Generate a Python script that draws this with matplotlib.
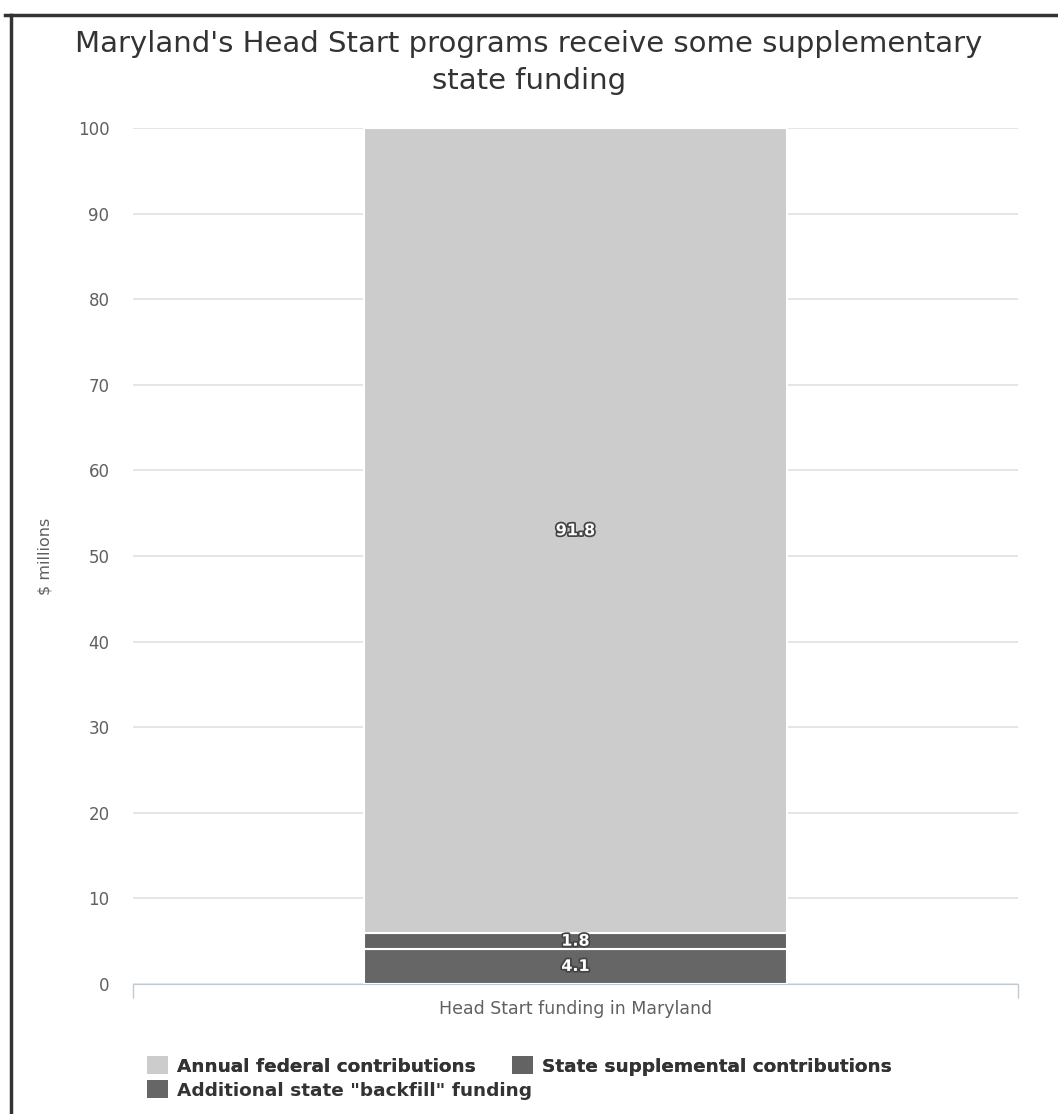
import matplotlib.pyplot as plt
import matplotlib.patheffects as pe
from matplotlib.lines import Line2D
from matplotlib.patches import Patch

plt.rcParams['font.family'] = ['DejaVu Sans']

# data
category = ["Head Start funding in Maryland"]
backfill = [4.1]        # Additional state "backfill" funding
supplemental = [1.8]    # State supplemental contributions
federal = [94.1]        # Annual federal contributions (bar drawn up to the axis top)
segment_labels = ["4.1", "1.8", "91.8"]
yticks = [0, 10, 20, 30, 40, 50, 60, 70, 80, 90, 100]

c_federal = "#cccccc"
c_supp = "#636363"
c_backfill = "#666666"

fig = plt.figure(figsize=(10.58, 11.14), dpi=100)
ax = fig.add_axes([133 / 1058, 130 / 1114, 885 / 1058, 856 / 1114])

x = [0]
w = 0.477
b1 = ax.bar(x, backfill, width=w, color=c_backfill, edgecolor="white", linewidth=1.5, zorder=3)
b2 = ax.bar(x, supplemental, width=w, bottom=backfill, color=c_supp, edgecolor="white", linewidth=1.5, zorder=3)
bottom3 = [a + b for a, b in zip(backfill, supplemental)]
b3 = ax.bar(x, federal, width=w, bottom=bottom3, color=c_federal, edgecolor="white", linewidth=1.5, zorder=3)

stroke = [pe.withStroke(linewidth=2.5, foreground="#444444")]
for bars, lab in zip([b1, b2, b3], segment_labels):
    r = bars[0]
    yc = r.get_y() + r.get_height() / 2
    if r.get_y() + r.get_height() > 100:
        yc = (r.get_y() + 100) / 2
    ax.text(r.get_x() + r.get_width() / 2, yc, lab, ha="center", va="center",
            color="white", fontsize=11.5, fontweight="bold", path_effects=stroke, zorder=5)

ax.set_xlim(-0.5, 0.5)
ax.set_ylim(0, 100)
ax.set_yticks(yticks)
ax.tick_params(axis="y", length=0, labelsize=12, labelcolor="#606060", pad=17)
ax.set_xticks([-0.5, 0.5])
ax.set_xticklabels(["", ""])
ax.tick_params(axis="x", length=10, color="#c0c8d0", width=1)
ax.text(0, -2.9, category[0], ha="center", va="center", fontsize=12.5, color="#606060")
ax.grid(axis="y", color="#e0e0e0", linewidth=1.2, zorder=0)
for s in ["top", "right", "left"]:
    ax.spines[s].set_visible(False)
ax.spines["bottom"].set_color("#c0c8d0")
ax.set_ylabel("$ millions", fontsize=11.5, color="#606060", labelpad=18)

fig.text(0.5, 1 - 44 / 1114, "Maryland's Head Start programs receive some supplementary",
         ha="center", va="center", fontsize=21, color="#333333")
fig.text(0.5, 1 - 81 / 1114, "state funding", ha="center", va="center", fontsize=21, color="#333333")

# outer frame (left and top only visible)
fig.add_artist(Line2D([5 / 1058, 1], [1 - 15 / 1114, 1 - 15 / 1114], color="#333333", linewidth=2.5))
fig.add_artist(Line2D([11 / 1058, 11 / 1058], [0, 1 - 15 / 1114], color="#333333", linewidth=2.5))

legend_kw = dict(frameon=False, handlelength=1.15, handleheight=1.1,
                 handletextpad=0.45, borderpad=0, borderaxespad=0,
                 prop={"weight": "bold", "size": 13.3})
h_fed = Patch(facecolor=c_federal)
h_supp = Patch(facecolor=c_supp)
h_back = Patch(facecolor=c_backfill)
leg1 = fig.legend([h_fed, h_supp], ["Annual federal contributions", "State supplemental contributions"],
                  loc="center left", bbox_to_anchor=(147 / 1058, 1 - 1066 / 1114), ncol=2,
                  columnspacing=2.0, **legend_kw)
for t in leg1.get_texts():
    t.set_color("#333333")
leg2 = fig.legend([h_back], ['Additional state "backfill" funding'],
                  loc="center left", bbox_to_anchor=(147 / 1058, 1 - 1090 / 1114), **legend_kw)
for t in leg2.get_texts():
    t.set_color("#333333")
fig.add_artist(leg1)

fig.savefig("out.png", dpi=100)
